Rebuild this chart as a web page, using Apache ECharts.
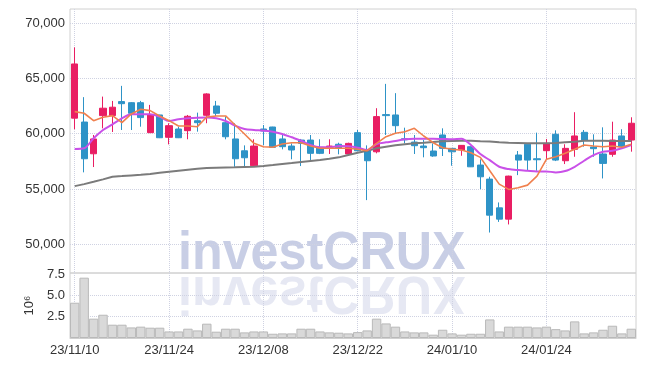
<!DOCTYPE html>
<html>
<head>
<meta charset="utf-8">
<script src="https://cdn.jsdelivr.net/npm/echarts@6/dist/echarts.min.js"></script>
<style>
html, body { margin: 0; padding: 0; background: #fff; }
#chart { width: 645px; height: 366px; }
</style>
</head>
<body>
<div id="chart"></div>
<script>
// trading days, YY/MM/DD
var dates = ['23/11/10','23/11/13','23/11/14','23/11/15','23/11/16','23/11/17','23/11/20','23/11/21','23/11/22','23/11/23',
  '23/11/24','23/11/27','23/11/28','23/11/29','23/11/30','23/12/01','23/12/04','23/12/05','23/12/06','23/12/07',
  '23/12/08','23/12/11','23/12/12','23/12/13','23/12/14','23/12/15','23/12/18','23/12/19','23/12/20','23/12/21',
  '23/12/22','23/12/26','23/12/27','23/12/28','24/01/02','24/01/03','24/01/04','24/01/05','24/01/08','24/01/09',
  '24/01/10','24/01/11','24/01/12','24/01/15','24/01/16','24/01/17','24/01/18','24/01/19','24/01/22','24/01/23',
  '24/01/24','24/01/25','24/01/26','24/01/29','24/01/30','24/01/31','24/02/01','24/02/02','24/02/05','24/02/06'];

// [open, close, low, high]
var candles = [
  [61400,66300,60400,67800],[61050,57730,56500,63300],[58180,59520,56980,59880],[61630,62300,60480,63350],[61630,62390,60150,62960],
  [62900,62710,60330,64320],[62800,61840,60330,62850],[62800,61450,60630,62960],[60090,61690,60050,62600],[61690,59630,59600,61700],
  [59670,60720,59030,60940],[60420,59630,59600,60630],[60270,61570,59490,61690],[61170,60990,60180,61900],[61660,63590,60940,63650],
  [62500,61840,61600,62960],[60990,59720,59490,61540],[59520,57730,57000,60940],[58450,57820,57070,58940],[57100,58880,57050,59490],
  [60420,60240,58970,60780],[60600,58760,58700,60620],[59520,58820,58580,59880],[58880,58520,57680,59120],[59420,59120,57070,59520],
  [59420,58220,57550,59880],[58760,58220,58150,59490],[58730,58880,58160,59490],[59040,58670,58130,59180],[58160,59120,57980,59180],
  [60090,58450,58420,60330],[58450,57550,53990,58940],[58360,61540,58220,62300],[61720,61630,59880,64500],[61690,60720,60030,63660],
  [59540,59440,59120,60540],[59240,58910,58160,59880],[58880,58730,57860,59420],[58430,57980,57910,59120],[59880,58670,57980,60480],
  [58670,58360,57100,58700],[58520,58940,58000,58960],[58820,57000,56980,58840],[57160,56100,54980,57680],[55890,52630,51060,56100],
  [53290,52270,52020,53780],[52270,56160,51790,56200],[58070,57610,56250,58430],[59040,57610,56710,59060],[57730,57640,56640,60090],
  [58460,59120,57680,59520],[59940,57610,57520,60300],[57550,58670,57250,59040],[58580,59790,57910,61940],[60120,59420,58820,60330],
  [58790,58640,57910,59940],[58160,57310,55950,60570],[58130,59420,57910,61080],[59790,58820,58670,60400],[59420,60940,58370,61480]
];

var ma5 = [61990,61844,61173,61482,61627,60993,61781,62207,62080,61600,
  61173,60693,60693,60630,61500,61600,61600,60784,59968,59125,
  58820,58763,59062,59180,59180,58881,58673,58673,58673,58673,
  58582,58455,59125,59724,60032,60177,60485,59787,59180,58727,
  58582,58519,58274,57857,56650,55437,54957,55102,55346,56162,
  57676,57912,58219,58582,58971,58881,58820,58881,58763,59035];

var ma20 = [58610,58673,59579,60330,60847,61391,61754,61754,61754,61536,
  61146,61300,61391,61445,61460,61391,61146,60720,60421,60330,
  60267,60177,59968,59669,59361,58971,58763,58763,58881,58850,
  58727,58519,59062,59216,59334,59488,59543,59543,59543,59515,
  59488,59543,58971,58156,57600,57005,56797,56706,56643,56588,
  56588,56497,56615,57005,57549,58065,58364,58455,58673,58971];

var ma60 = [55256,55437,55646,55863,56099,56162,56226,56280,56343,56461,
  56552,56642,56733,56824,56890,56915,56940,56960,56985,57005,
  57069,57159,57250,57340,57431,57521,57612,57730,57857,58065,
  58274,58455,58673,58820,58944,59035,59125,59180,59243,59307,
  59334,59361,59361,59307,59290,59216,59180,59152,59125,59125,
  59125,59152,59216,59270,59361,59361,59361,59334,59334,59334];

// volume, millions
var volume = [4.14,7.08,2.27,2.73,1.56,1.56,1.24,1.33,1.21,1.21,
  0.77,0.77,1.09,0.89,1.68,0.74,1.09,1.09,0.66,0.77,
  0.77,0.50,0.54,0.54,1.09,1.09,0.77,0.66,0.62,0.54,
  0.69,0.89,2.27,1.71,1.33,0.77,0.66,0.66,0.39,0.97,
  0.54,0.39,0.50,0.50,2.18,0.77,1.33,1.33,1.33,1.24,
  1.33,1.04,0.89,1.95,0.54,0.66,0.97,1.44,0.54,1.09];

var priceTicks = [50000, 55000, 60000, 65000, 70000];
var volumeTicks = [2.5, 5, 7.5];

var FONT = '"Liberation Sans", Arial, sans-serif';
var gridLine = { type: 'dotted', color: '#cfd2e2', width: 1 };
var labelStyle = { color: '#333', fontFamily: FONT, fontSize: 13 };

var myChart = echarts.init(document.getElementById('chart'));
myChart.setOption({
  animation: false,
  backgroundColor: '#fff',
  grid: [
    { left: 70, right: 9, top: 9, height: 264, show: true, borderColor: '#d0d0d0', borderWidth: 1 },
    { left: 70, right: 9, top: 273, height: 65, show: true, borderColor: '#d0d0d0', borderWidth: 1 }
  ],
  // watermark with its mirror image
  graphic: [{
    type: 'group', x: 178, y: 273, scaleX: 0.93, silent: true,
    children: [
      { type: 'text', x: 0, y: 8,
        style: { text: 'investCRUX', font: 'bold 54px ' + FONT, fill: 'rgba(190,197,225,0.85)', verticalAlign: 'bottom' } },
      { type: 'text', x: 0, y: -8, scaleY: -1,
        style: { text: 'investCRUX', font: 'bold 54px ' + FONT, fill: 'rgba(200,205,228,0.45)', verticalAlign: 'bottom' } }
    ]
  }],
  xAxis: [
    { type: 'category', gridIndex: 0, data: dates, boundaryGap: true,
      axisLine: { show: false }, axisTick: { show: false }, axisLabel: { show: false },
      splitLine: { show: true, interval: 9, alignWithLabel: true, lineStyle: gridLine } },
    { type: 'category', gridIndex: 1, data: dates, boundaryGap: true,
      axisLine: { show: true, lineStyle: { color: '#d0d0d0' } }, axisTick: { show: false },
      axisLabel: Object.assign({ interval: 9, margin: 6 }, labelStyle),
      splitLine: { show: true, interval: 9, alignWithLabel: true, lineStyle: gridLine } }
  ],
  yAxis: [
    { type: 'value', gridIndex: 0, min: 47400, max: 71270,
      axisLine: { show: false },
      axisTick: { show: false, customValues: priceTicks },
      axisLabel: Object.assign({ customValues: priceTicks, margin: 5,
        formatter: function (v) { return v.toLocaleString('en-US'); } }, labelStyle),
      splitLine: { show: true, lineStyle: gridLine } },
    { type: 'value', gridIndex: 1, min: 0, max: 7.63,
      name: '10\u2076', nameLocation: 'middle', nameRotate: 90, nameGap: 34,
      nameTextStyle: { color: '#333', fontFamily: FONT, fontSize: 13 },
      axisLine: { show: false },
      axisTick: { show: false, customValues: [2.5, 5] },
      axisLabel: Object.assign({ customValues: volumeTicks, margin: 5,
        formatter: function (v) { return v.toFixed(1); } }, labelStyle),
      splitLine: { show: true, lineStyle: gridLine } }
  ],
  series: [
    { name: 'Price', type: 'candlestick', xAxisIndex: 0, yAxisIndex: 0, data: candles, barWidth: '70%',
      itemStyle: { color: '#e91e63', color0: '#2e93c7', borderColor: '#e91e63', borderColor0: '#2e93c7', borderWidth: 1 } },
    { name: 'MA60', type: 'line', xAxisIndex: 0, yAxisIndex: 0, data: ma60, symbol: 'none',
      lineStyle: { color: '#7b7b7b', width: 2 } },
    { name: 'MA20', type: 'line', xAxisIndex: 0, yAxisIndex: 0, data: ma20, symbol: 'none', smooth: 0.3,
      lineStyle: { color: '#c950e8', width: 2 } },
    { name: 'MA5', type: 'line', xAxisIndex: 0, yAxisIndex: 0, data: ma5, symbol: 'none',
      lineStyle: { color: '#f0804e', width: 1.6 } },
    { name: 'Volume', type: 'bar', xAxisIndex: 1, yAxisIndex: 1, data: volume, barCategoryGap: '0%',
      itemStyle: { color: '#d9d9d9', borderColor: '#b9b9b9', borderWidth: 1 } }
  ]
});
</script>
</body>
</html>
